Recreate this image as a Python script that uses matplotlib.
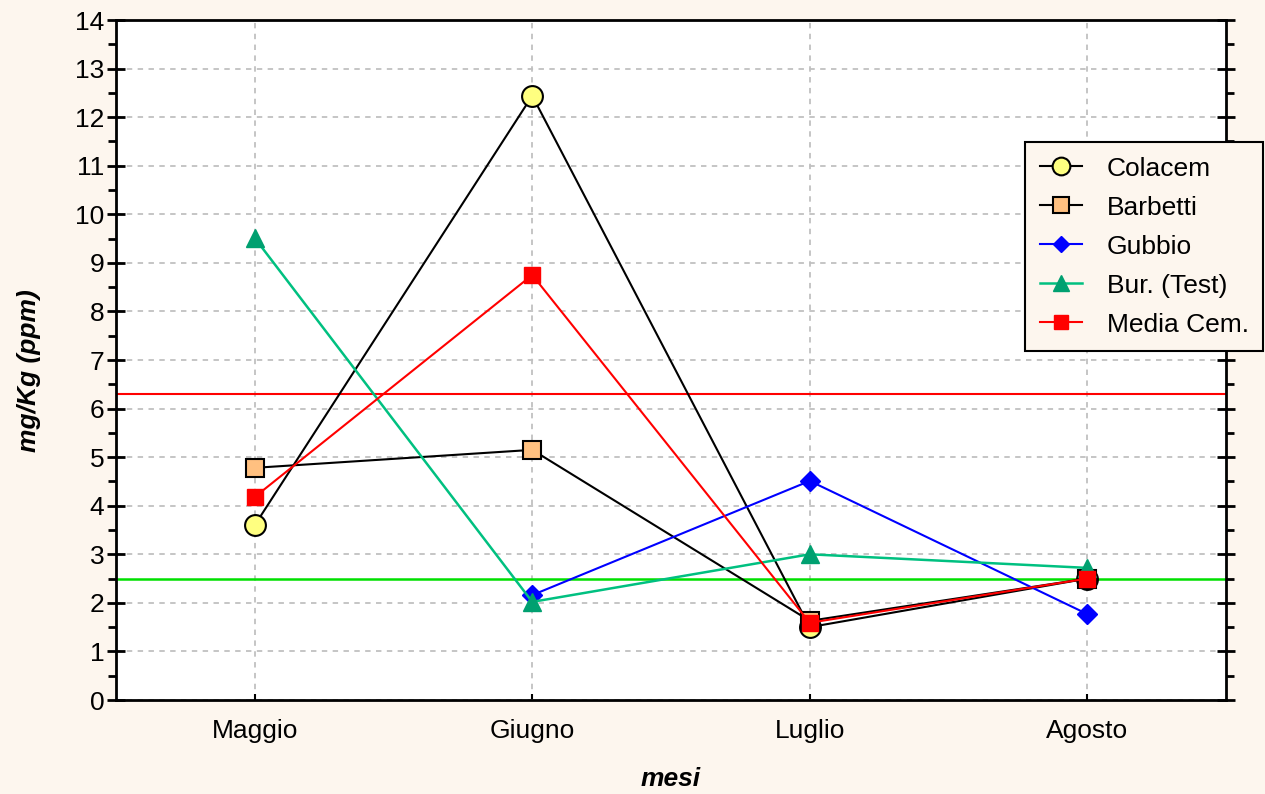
import matplotlib.pyplot as plt
import numpy as np
from matplotlib.ticker import MultipleLocator

plt.rcParams['font.family'] = ['Liberation Sans', 'DejaVu Sans']

# dati
mesi = ['Maggio', 'Giugno', 'Luglio', 'Agosto']
colacem = [3.6, 12.44, 1.5, 2.5]
barbetti = [4.78, 5.15, 1.63, 2.5]
gubbio = [np.nan, 2.16, 4.51, 1.77]
bur_test = [9.51, 2.02, 3.0, 2.72]
media_cem = [4.18, 8.75, 1.59, 2.5]
limite_rosso = 6.3
limite_verde = 2.5

bg = '#fdf6ee'
fs = 19
fig = plt.figure(figsize=(12.65, 7.94), dpi=100, facecolor=bg)
ax = fig.add_axes([116 / 1265, 94 / 794, 1110 / 1265, 680 / 794])
ax.set_facecolor('white')

x = np.arange(len(mesi))

ax.axhline(limite_rosso, color='#ff0000', lw=1.5, zorder=2)
ax.axhline(limite_verde, color='#00e000', lw=1.8, zorder=2)

ax.plot(x, colacem, color='black', lw=1.5, marker='o', ms=15,
        mfc='#ffff80', mec='black', mew=1.5, label='Colacem', zorder=3)
ax.plot(x, barbetti, color='black', lw=1.5, marker='s', ms=13,
        mfc='#ffc080', mec='black', mew=1.5, label='Barbetti', zorder=4)
ax.plot(x, gubbio, color='#0000ff', lw=1.5, marker='D', ms=10,
        mfc='#0000ff', mec='#0000ff', label='Gubbio', zorder=5)
ax.plot(x, bur_test, color='#00c080', lw=1.8, marker='^', ms=13,
        mfc='#00a070', mec='#00a070', label='Bur. (Test)', zorder=5)
ax.plot(x, media_cem, color='#ff0000', lw=1.5, marker='s', ms=12,
        mfc='#ff0000', mec='#ff0000', label='Media Cem.', zorder=6)

ax.set_xlim(-0.5, 3.5)
ax.set_ylim(0, 14)
ax.set_xticks(x)
ax.set_xticklabels(mesi)
ax.yaxis.set_major_locator(MultipleLocator(1))
ax.yaxis.set_minor_locator(MultipleLocator(0.5))

ax.tick_params(axis='y', which='major', direction='inout', length=13, width=2,
               right=True, labelsize=fs, pad=2)
ax.tick_params(axis='y', which='minor', direction='out', length=6, width=2, right=True)
ax.tick_params(axis='x', which='major', direction='in', length=4, width=1.5,
               labelsize=fs, pad=14)

for s in ax.spines.values():
    s.set_linewidth(2)

ax.grid(True, which='major', color='#c0c0c0', linestyle=(0, (3, 3)), lw=1.3)
ax.set_axisbelow(True)

ax.set_xlabel('mesi', fontsize=fs, fontweight='bold', fontstyle='italic', labelpad=17)
ax.set_ylabel('mg/Kg (ppm)', fontsize=fs, fontweight='bold', fontstyle='italic')
ax.yaxis.set_label_coords(-0.068, 0.485)

leg = ax.legend(loc='upper left', bbox_to_anchor=(1025 / 1265, 1 - 142 / 794),
                bbox_transform=fig.transFigure, fontsize=fs, frameon=True,
                fancybox=False, edgecolor='black', facecolor=bg, framealpha=1,
                handlelength=1.6, labelspacing=0.57, borderpad=0.55, handletextpad=0.95,
                borderaxespad=0)
leg.get_frame().set_linewidth(1.5)
for h in leg.legend_handles:
    h.set_markersize(h.get_markersize() * 0.85)

plt.savefig('out.png', dpi=100, facecolor=bg)
plt.close()
